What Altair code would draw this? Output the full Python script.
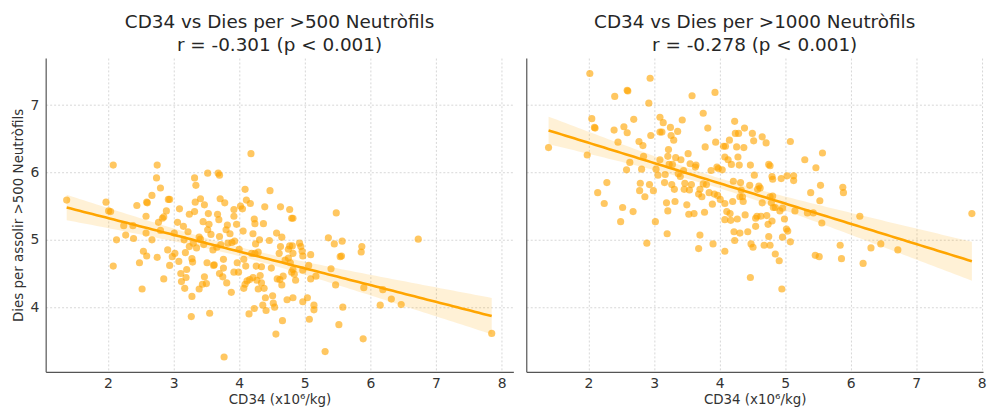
import altair as alt
import numpy as np
import pandas as pd

# CD34 dose (x10^6/kg) vs days to reach >500 neutrophils
cd34_500 = [
    1.37, 1.97, 2.01, 2.04, 2.08, 2.13, 2.08, 2.24, 2.27, 2.39, 2.38, 2.44, 2.48, 2.52, 2.54, 2.58,
    2.58, 2.59, 2.60, 2.59, 2.67, 2.67, 2.74, 2.75, 2.80, 2.75, 2.77, 2.80, 2.83, 2.85, 2.85, 2.89,
    2.92, 2.94, 2.91, 2.94, 2.98, 3.01, 3.02, 3.06, 3.08, 3.09, 3.11, 3.12, 3.15, 3.16, 3.17, 3.18,
    3.19, 3.20, 3.22, 3.24, 3.24, 3.27, 3.28, 3.28, 3.29, 3.30, 3.32, 3.32, 3.33, 3.34, 3.35, 3.39,
    3.39, 3.41, 3.41, 3.44, 3.45, 3.46, 3.47, 3.47, 3.50, 3.51, 3.52, 3.52, 3.53, 3.54, 3.55, 3.57,
    3.60, 3.61, 3.62, 3.66, 3.67, 3.68, 3.70, 3.69, 3.70, 3.70, 3.71, 3.72, 3.75, 3.76, 3.76, 3.78,
    3.77, 3.80, 3.81, 3.82, 3.83, 3.86, 3.88, 3.89, 3.92, 3.92, 3.92, 3.93, 3.96, 3.97, 3.99, 4.00,
    4.02, 4.05, 4.06, 4.07, 4.07, 4.09, 4.09, 4.10, 4.11, 4.12, 4.15, 4.16, 4.17, 4.18, 4.19, 4.21,
    4.21, 4.23, 4.23, 4.24, 4.24, 4.25, 4.26, 4.27, 4.29, 4.29, 4.31, 4.32, 4.34, 4.34, 4.36, 4.37,
    4.38, 4.39, 4.40, 4.41, 4.46, 4.47, 4.49, 4.51, 4.52, 4.54, 4.56, 4.57, 4.58,
    4.63, 4.77, 4.80, 4.82, 4.65, 4.63, 4.61, 4.70, 4.75, 4.77, 4.81, 4.82, 4.75, 4.78, 4.82, 4.84,
    4.86, 4.80, 4.67, 4.62, 4.65, 4.73, 4.82, 4.66, 4.92, 4.94, 4.96, 4.97, 4.97, 5.06, 5.09, 5.09,
    4.97, 5.04, 5.14, 5.14, 5.07, 5.17, 5.31, 5.36, 5.40, 5.45, 5.48, 5.47, 5.54, 5.56, 5.57, 5.52,
    5.58, 5.87, 5.86, 5.90, 5.89, 6.15, 6.19, 6.32, 6.47, 6.73, 7.85,
]
dies_500 = [
    5.59, 5.56, 5.43, 5.42, 6.11, 5.00, 4.61, 5.21, 5.07, 5.02, 5.21, 5.51, 4.66, 4.27, 4.83, 5.35,
    5.10, 5.56, 5.55, 4.76, 5.66, 5.00, 5.92, 6.11, 5.77, 4.74, 5.26, 5.14, 5.32, 5.34, 4.42, 5.43,
    5.60, 5.60, 4.85, 4.62, 4.75, 5.10, 4.80, 5.26, 4.68, 5.46, 4.50, 4.38, 5.20, 5.00, 4.28, 4.81,
    4.44, 4.56, 5.12, 5.38, 4.90, 3.86, 4.72, 4.16, 4.67, 4.95, 5.42, 5.92, 5.56, 5.81, 4.88, 5.04,
    4.27, 5.01, 5.61, 4.34, 5.27, 4.93, 4.45, 5.52, 4.35, 4.66, 5.15, 5.99, 5.39, 5.23, 3.91, 5.08,
    4.85, 4.62, 4.63, 4.89, 5.38, 5.99, 5.96, 5.30, 5.05, 4.50, 5.61, 4.93, 4.45, 4.71, 4.58, 5.55,
    3.26, 5.15, 4.36, 5.22, 4.95, 5.09, 4.22, 4.96, 5.35, 5.45, 4.52, 4.98, 5.23, 4.66, 4.52, 4.86,
    5.50, 5.46, 5.13, 4.71, 4.28, 5.75, 4.34, 4.61, 5.59, 4.39, 3.90, 4.41, 5.54, 6.28, 4.80, 5.09,
    4.44, 5.31, 3.98, 5.24, 4.80, 4.94, 4.61, 4.40, 4.27, 4.82, 5.00, 4.47, 4.60, 4.36, 4.03, 5.24,
    4.28, 5.49, 4.14, 3.95, 4.99, 5.73, 4.58, 4.17, 4.06, 4.00, 3.60, 5.10, 4.42,
    5.49, 5.45, 5.32, 5.32, 5.04, 4.90, 4.80, 4.70, 4.86, 4.91, 4.91, 4.80, 4.73, 4.66, 4.56, 4.49,
    4.40, 4.52, 4.46, 4.41, 4.33, 4.11, 4.14, 3.80, 4.95, 4.90, 4.83, 4.76, 4.55, 4.62, 4.78, 4.42,
    4.08, 4.14, 4.03, 3.96, 3.82, 4.46, 3.34, 5.03, 4.57, 4.94, 5.40, 4.33, 4.75, 4.76, 4.98, 3.74,
    4.00, 4.90, 4.82, 4.29, 3.53, 4.03, 4.26, 4.12, 4.04, 5.01, 3.61,
]

# CD34 dose (x10^6/kg) vs days to reach >1000 neutrophils
cd34_1000 = [
    1.39, 1.98, 2.02, 2.05, 2.09, 2.10, 2.14, 2.24, 2.28, 2.39, 2.40, 2.45, 2.49, 2.52, 2.54, 2.59,
    2.60, 2.58, 2.59, 2.63, 2.68, 2.69, 2.77, 2.79, 2.81, 2.78, 2.83, 2.84, 2.86, 2.89, 2.92, 2.93,
    2.94, 2.95, 2.99, 3.02, 3.03, 3.06, 3.09, 3.09, 3.09, 3.12, 3.14, 3.16, 3.17, 3.19, 3.20, 3.21,
    3.21, 3.22, 3.23, 3.25, 3.26, 3.27, 3.28, 3.30, 3.31, 3.32, 3.33, 3.36, 3.37, 3.40, 3.41, 3.43,
    3.45, 3.46, 3.47, 3.50, 3.52, 3.53, 3.54, 3.55, 3.57, 3.58, 3.61, 3.63, 3.64, 3.68, 3.68, 3.70,
    3.70, 3.73, 3.75, 3.75, 3.77, 3.78, 3.80, 3.82, 3.84, 3.87, 3.89, 3.90, 3.92, 3.93, 3.94, 3.96,
    3.97, 3.98, 4.01, 4.04, 4.06, 4.08, 4.08, 4.08, 4.08, 4.09, 4.11, 4.13, 4.15, 4.16, 4.17, 4.18,
    4.20, 4.21, 4.22, 4.23, 4.23, 4.24, 4.26, 4.27, 4.28, 4.29, 4.30, 4.31, 4.31, 4.32, 4.33, 4.35,
    4.36, 4.37, 4.38, 4.39, 4.43, 4.46, 4.47, 4.47, 4.48, 4.50, 4.51, 4.52, 4.53, 4.55, 4.55,
    4.65, 4.71, 4.75, 4.77, 5.08, 5.30, 5.47, 5.57, 4.80, 4.81, 4.94, 5.03, 5.13, 5.13, 4.60, 4.62,
    4.65, 4.58, 4.77, 4.81, 4.79, 4.85, 4.82, 4.92, 4.96, 5.15, 5.34, 5.43, 5.39, 5.53, 5.54, 5.56,
    5.88, 5.89, 4.57, 4.63, 4.72, 4.74, 4.80, 4.99, 5.02, 5.04, 4.96, 5.08, 4.75, 4.68, 4.77, 4.85,
    4.91, 4.95, 5.46, 5.52, 5.84, 5.86, 6.14, 6.19, 6.31, 6.46, 6.72, 7.85,
]
dies_1000 = [
    6.37, 6.26, 7.47, 6.80, 6.67, 6.66, 5.70, 5.54, 5.85, 6.63, 7.13, 6.45, 5.27, 5.48, 6.68, 7.22,
    7.21, 6.04, 6.59, 6.15, 5.42, 6.79, 6.46, 5.84, 6.05, 5.73, 6.40, 6.24, 5.64, 4.95, 7.03, 5.82,
    7.40, 6.55, 5.73, 5.27, 6.05, 5.96, 6.19, 6.82, 6.60, 6.60, 6.74, 5.85, 5.97, 5.55, 5.09, 6.24,
    5.43, 6.34, 6.12, 6.67, 6.55, 5.82, 6.12, 6.48, 5.75, 5.57, 6.22, 6.61, 5.98, 5.94, 6.19, 6.78,
    6.03, 5.75, 5.84, 5.52, 6.28, 5.38, 5.74, 6.13, 5.82, 7.14, 5.39, 6.08, 6.11, 5.68, 4.87, 5.07,
    5.75, 5.64, 6.88, 5.83, 5.41, 6.38, 5.82, 6.66, 5.70, 6.03, 5.53, 4.94, 5.68, 7.19, 6.45, 6.08,
    5.66, 6.06, 5.60, 6.04, 6.39, 6.23, 5.30, 4.83, 5.54, 6.39, 5.42, 6.19, 6.48, 5.39, 5.29, 6.12,
    5.57, 5.87, 5.12, 6.76, 4.99, 6.58, 6.38, 5.31, 6.23, 6.58, 6.11, 5.10, 5.64, 5.85, 5.74, 5.64,
    5.57, 6.37, 6.66, 5.37, 5.12, 5.81, 6.11, 4.44, 4.94, 6.58, 4.89, 6.47, 5.96, 5.32, 5.20,
    6.53, 6.44, 6.12, 6.10, 6.46, 6.19, 6.07, 6.29, 5.94, 5.90, 5.91, 5.95, 5.95, 5.88, 5.80, 5.77,
    5.55, 5.75, 5.64, 5.65, 5.55, 5.48, 5.48, 5.43, 5.47, 5.43, 5.40, 5.40, 5.70, 5.58, 5.81, 5.25,
    5.78, 5.70, 5.35, 5.35, 5.36, 5.23, 5.28, 5.31, 5.16, 5.13, 5.04, 4.97, 5.05, 4.92, 4.92, 4.79,
    4.69, 4.27, 4.77, 4.75, 4.92, 4.72, 5.35, 4.65, 4.88, 4.94, 4.85, 5.39,
]

TITLES = [
    ["CD34 vs Dies per >500 Neutròfils", "r = -0.301 (p < 0.001)"],
    ["CD34 vs Dies per >1000 Neutròfils", "r = -0.278 (p < 0.001)"],
]
X_TITLE = "CD34 (x10\u2076/kg)"
Y_TITLE = "Dies per assolir >500 Neutròfils"

ORANGE = "#FFA500"
FONT = "DejaVu Sans"
Y_DOMAIN = [3.04, 7.70]
PX_PER_UNIT = 66


def fit_band(x, y):
    """OLS fit with a 95% confidence band for the mean."""
    x = np.asarray(x, float)
    y = np.asarray(y, float)
    n = len(x)
    slope, intercept = np.polyfit(x, y, 1)
    resid = y - (slope * x + intercept)
    s = np.sqrt(np.sum(resid ** 2) / (n - 2))
    xm = x.mean()
    sxx = np.sum((x - xm) ** 2)
    grid = np.linspace(x.min(), x.max(), 100)
    pred = slope * grid + intercept
    se = s * np.sqrt(1.0 / n + (grid - xm) ** 2 / sxx)
    t = 1.97
    return pd.DataFrame({"x": grid, "fit": pred, "lo": pred - t * se, "hi": pred + t * se})


def panel(x, y, title, x_max, show_y):
    pts = pd.DataFrame({"x": x, "y": y})
    fit = fit_band(x, y)
    x_dom = [1.05, x_max]
    width = round((x_max - 1.05) * PX_PER_UNIT)

    x_enc = alt.X(
        "x:Q",
        scale=alt.Scale(domain=x_dom, nice=False, zero=False),
        axis=alt.Axis(values=[2, 3, 4, 5, 6, 7, 8], title=X_TITLE, format="d"),
    )
    if show_y:
        y_axis = alt.Axis(values=[4, 5, 6, 7], title=Y_TITLE, format="d")
    else:
        y_axis = alt.Axis(values=[4, 5, 6, 7], title=None, labels=False)
    y_scale = alt.Scale(domain=Y_DOMAIN, nice=False, zero=False)

    band = alt.Chart(fit).mark_area(color=ORANGE, opacity=0.16).encode(
        x=x_enc,
        y=alt.Y("lo:Q", scale=y_scale, axis=y_axis),
        y2="hi:Q",
    )
    dots = alt.Chart(pts).mark_circle(color=ORANGE, opacity=0.62, size=52).encode(
        x=x_enc,
        y=alt.Y("y:Q", scale=y_scale, axis=y_axis),
    )
    line = alt.Chart(fit).mark_line(color=ORANGE, strokeWidth=2.6).encode(
        x=x_enc,
        y=alt.Y("fit:Q", scale=y_scale, axis=y_axis),
    )
    return alt.layer(band, dots, line).properties(
        width=width,
        height=316,
        title=alt.TitleParams(
            text=title, fontSize=18.5, font=FONT, fontWeight="normal",
            color="#262626", anchor="middle", lineHeight=23, offset=4,
        ),
    )


left = panel(cd34_500, dies_500, TITLES[0], 8.18, True)
right = panel(cd34_1000, dies_1000, TITLES[1], 8.02, False)

chart = (
    alt.hconcat(left, right, spacing=13)
    .properties(padding={"left": 12, "top": 11, "right": 0, "bottom": 0}, background="white")
    .configure_view(stroke=None)
    .configure_axis(
        labelFont=FONT, titleFont=FONT, labelFontSize=14, titleFontSize=13.5,
        labelColor="#333333", titleColor="#333333", titleFontWeight="normal",
        domainColor="#555555", domainWidth=1.2, ticks=False, labelPadding=5,
        gridColor="#cccccc", gridDash=[2, 2], gridWidth=0.8, titlePadding=2,
    )
    .configure_axisY(labelPadding=7, titlePadding=4)
)

chart.save("out.html", embed_options={"renderer": "svg", "actions": False})
